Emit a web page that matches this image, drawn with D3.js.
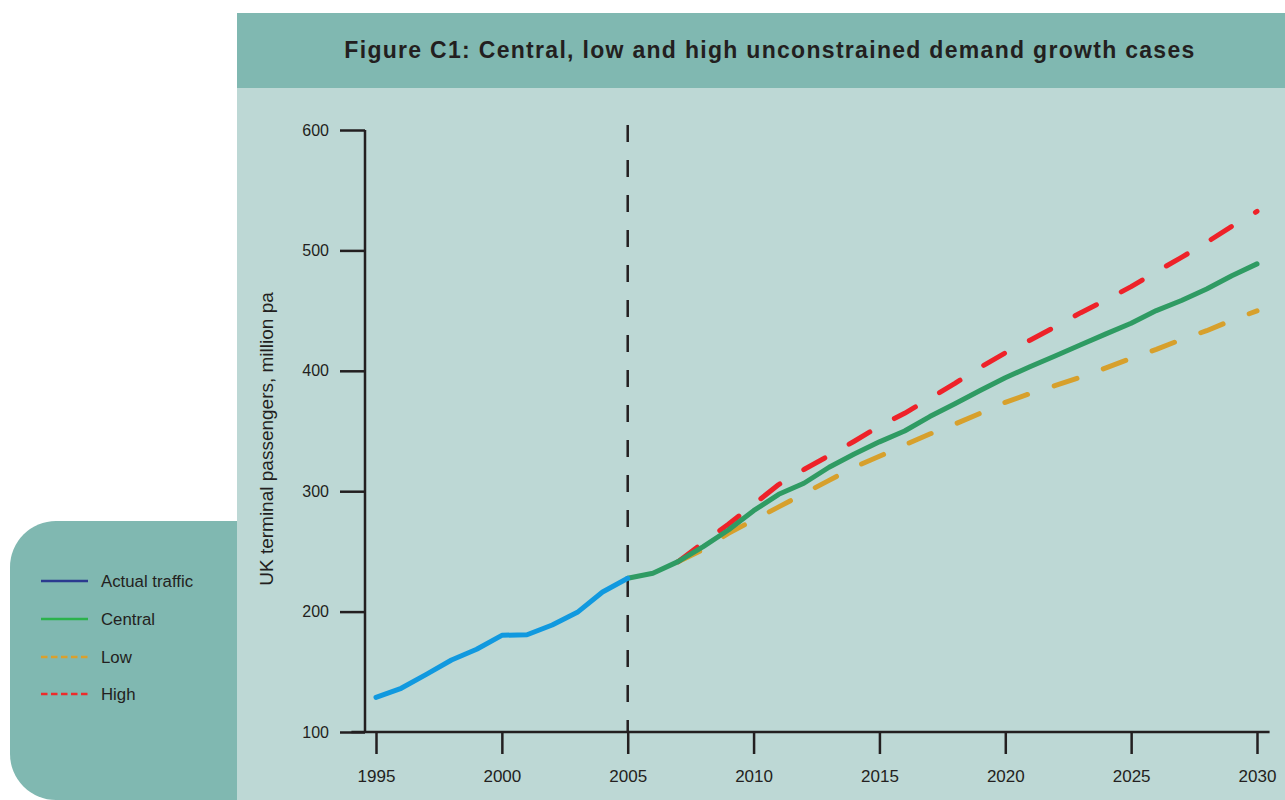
<!DOCTYPE html>
<html>
<head>
<meta charset="utf-8">
<script src="https://cdn.jsdelivr.net/npm/d3@7"></script>
<style>
  body { margin: 0; background: #fff; }
  text { font-family: "Liberation Sans", Arial, sans-serif; fill: #231f20; }
</style>
</head>
<body>
<div id="chart"></div>
<script>
// data
var actualYears = [1995, 1996, 1997, 1998, 1999, 2000, 2001, 2002, 2003, 2004, 2005];
var actualValues = [128.8, 136.3, 147.9, 159.8, 168.7, 180.3, 180.8, 188.9, 199.4, 216.3, 227.7];

var centralYears = [2005, 2006, 2007, 2008, 2009, 2010, 2011, 2012, 2013, 2014, 2015, 2016, 2017,
  2018, 2019, 2020, 2021, 2022, 2023, 2024, 2025, 2026, 2027, 2028, 2029, 2030];
var centralValues = [227.7, 231.8, 241.5, 254, 267.8, 283.8, 297.4, 306.6, 319.9, 330.9, 341, 350, 362,
  372.7, 383.7, 394.2, 403.6, 412.5, 421.6, 430.7, 439.5, 450, 458.4, 468, 479, 488.8];

var scenarioYears = [2007, 2008, 2009, 2010, 2011, 2012, 2013, 2014, 2015, 2016, 2017, 2018, 2019,
  2020, 2021, 2022, 2023, 2024, 2025, 2026, 2027, 2028, 2029, 2030];
var lowValues = [241.5, 251.6, 265, 276, 287, 298, 309, 320, 329, 338.4, 347.5, 355.8, 364.7,
  373.8, 381.2, 387.8, 394.7, 402.5, 410.3, 417.8, 426, 433.3, 442, 449.8];
var highValues = [241.5, 257.3, 272.5, 289, 305.5, 318, 329.6, 341.5, 354, 364.7, 377, 389.5, 402.8,
  414.9, 425.6, 436.7, 448.3, 458.8, 469.9, 482.3, 494.2, 506.7, 520, 532.4];

var xTicks = [1995, 2000, 2005, 2010, 2015, 2020, 2025, 2030];
var yTicks = [100, 200, 300, 400, 500, 600];
var splitYear = 2005;

var legendLabels = ["Actual traffic", "Central", "Low", "High"];

var svgWidth = 1285;
var svgHeight = 800;

var svg = d3.select("#chart")
    .append("svg")
    .attr("width", svgWidth)
    .attr("height", svgHeight);

// background panels
svg.append("rect")
    .attr("x", 10).attr("y", 521)
    .attr("width", 300).attr("height", 279)
    .attr("rx", 46).attr("ry", 46)
    .attr("fill", "#80b8b1");

svg.append("rect")
    .attr("x", 237).attr("y", 88)
    .attr("width", svgWidth - 237).attr("height", svgHeight - 88)
    .attr("fill", "#bdd8d5");

svg.append("rect")
    .attr("x", 237).attr("y", 13)
    .attr("width", svgWidth - 237).attr("height", 75)
    .attr("fill", "#80b8b1");

svg.append("text")
    .attr("x", 770).attr("y", 58)
    .attr("text-anchor", "middle")
    .attr("font-size", "23px")
    .attr("font-weight", "bold")
    .attr("letter-spacing", "1.3px")
    .text("Figure C1: Central, low and high unconstrained demand growth cases");

// scales
var x = d3.scaleLinear().domain([1995, 2030]).range([376, 1257]);
var y = d3.scaleLinear().domain([100, 600]).range([732, 130]);

// axes
var yAxis = d3.axisLeft(y)
    .tickValues(yTicks)
    .tickSize(25)
    .tickSizeOuter(0)
    .tickPadding(11);

var yG = svg.append("g")
    .attr("transform", "translate(365,0)")
    .call(yAxis);
yG.select(".domain").attr("stroke", "#231f20").attr("stroke-width", 2.5)
    .attr("d", "M0," + (y(100) + 1) + "V" + y(600));
yG.selectAll(".tick line").attr("stroke", "#231f20").attr("stroke-width", 2.5);
yG.selectAll(".tick text").attr("font-size", "16px").attr("font-family", "Liberation Sans, Arial, sans-serif").attr("fill", "#231f20");

var xAxis = d3.axisBottom(x)
    .tickValues(xTicks)
    .tickFormat(d3.format("d"))
    .tickSize(22)
    .tickSizeOuter(0)
    .tickPadding(16);

var xG = svg.append("g")
    .attr("transform", "translate(0," + y(100) + ")")
    .call(xAxis);
xG.select(".domain").attr("stroke", "#231f20").attr("stroke-width", 2.5)
    .attr("d", "M" + (x(1994.5) - 12) + ",0H" + x(2030.5));
xG.selectAll(".tick line").attr("stroke", "#231f20").attr("stroke-width", 2.5);
xG.selectAll(".tick text").attr("font-size", "17px").attr("font-family", "Liberation Sans, Arial, sans-serif").attr("fill", "#231f20");

svg.append("text")
    .attr("transform", "translate(266," + ((y(100) + y(600)) / 2 + 8) + ") rotate(-90)")
    .attr("text-anchor", "middle")
    .attr("dominant-baseline", "central")
    .attr("font-size", "19px")
    .text("UK terminal passengers, million pa");

// split line at 2005
svg.append("line")
    .attr("x1", x(splitYear)).attr("x2", x(splitYear))
    .attr("y1", 125).attr("y2", y(100))
    .attr("stroke", "#231f20")
    .attr("stroke-width", 2.5)
    .attr("stroke-dasharray", "17,18");

// lines
var line = d3.line()
    .x(d => x(d[0]))
    .y(d => y(d[1]));

function addSeries(years, values, color, dash) {
  svg.append("path")
      .datum(d3.zip(years, values))
      .attr("d", line)
      .attr("fill", "none")
      .attr("stroke", color)
      .attr("stroke-width", 5)
      .attr("stroke-linecap", "round")
      .attr("stroke-linejoin", "round")
      .attr("stroke-dasharray", dash);
}

addSeries(scenarioYears, lowValues, "#d7a02c", "24,28");
addSeries(scenarioYears, highValues, "#ee2229", "24,28");
addSeries(centralYears, centralValues, "#2f9b63", null);
addSeries(actualYears, actualValues, "#1199df", null);

// legend
var legendColors = ["#2b3a8f", "#2bb24c", "#d9a02c", "#ee2b2b"];
var legendDash = [null, null, "6.5,3.5", "6.5,3.5"];
var legendY = [581, 619, 657, 694];

var legend = svg.append("g");
legendLabels.forEach(function (label, i) {
  legend.append("line")
      .attr("x1", 41).attr("x2", 88)
      .attr("y1", legendY[i]).attr("y2", legendY[i])
      .attr("stroke", legendColors[i])
      .attr("stroke-width", 2.5)
      .attr("stroke-dasharray", legendDash[i]);
  legend.append("text")
      .attr("x", 101).attr("y", legendY[i])
      .attr("dominant-baseline", "central")
      .attr("font-size", "16.8px")
      .text(label);
});
</script>
</body>
</html>
